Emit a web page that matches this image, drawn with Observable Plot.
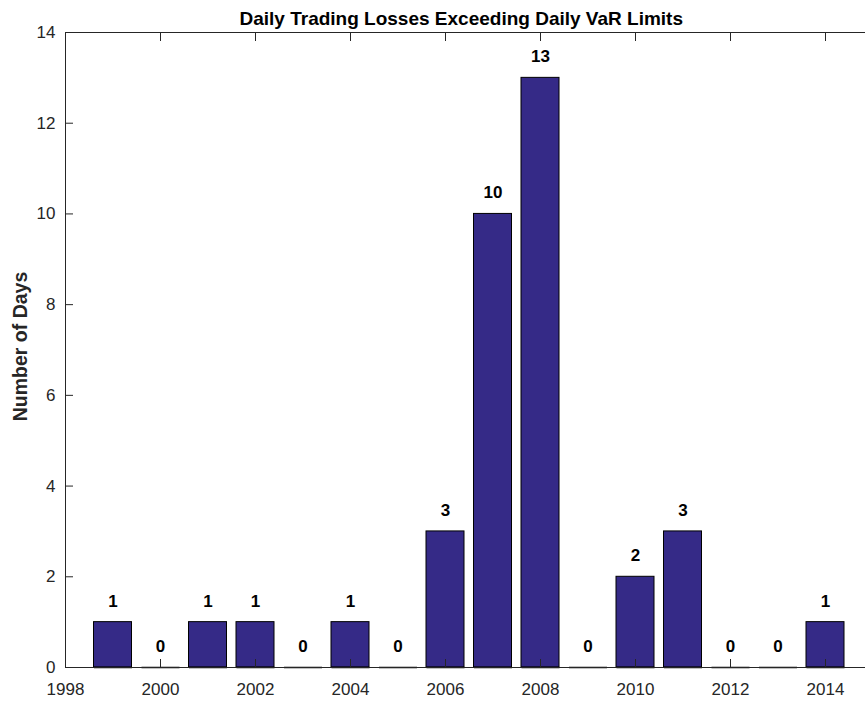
<!DOCTYPE html>
<html>
<head>
<meta charset="utf-8">
<script src="https://cdn.jsdelivr.net/npm/d3@7"></script>
<script src="https://cdn.jsdelivr.net/npm/@observablehq/plot@0.6"></script>
<style>
  html, body { margin: 0; padding: 0; background: #ffffff; overflow: hidden; }
  #chart { width: 865px; height: 702px; overflow: hidden; }
</style>
</head>
<body>
<div id="chart"></div>
<script>
const titleText = "Daily Trading Losses Exceeding Daily VaR Limits";
const yLabelText = "Number of Days";
const years = [1999, 2000, 2001, 2002, 2003, 2004, 2005, 2006, 2007, 2008, 2009, 2010, 2011, 2012, 2013, 2014];
const counts = [1, 0, 1, 1, 0, 1, 0, 3, 10, 13, 0, 2, 3, 0, 0, 1];
const xTicks = [1998, 2000, 2002, 2004, 2006, 2008, 2010, 2012, 2014];
const yTicks = [0, 2, 4, 6, 8, 10, 12, 14];
const xDomain = [1998, 2015];
const yDomain = [0, 14];

const data = years.map((year, i) => ({year, count: counts[i]}));
const halfWidth = 0.4;
const axisColor = "#262626";
const barColor = "#352a87";

const chart = Plot.plot({
  width: 865,
  height: 702,
  marginLeft: 65,
  marginTop: 32,
  marginBottom: 35,
  marginRight: -7.5,
  style: {fontFamily: "'Liberation Sans', Arial, Helvetica, sans-serif", fontSize: "17px", color: axisColor, background: "#ffffff", overflow: "visible"},
  x: {domain: xDomain},
  y: {domain: yDomain},
  marks: [
    Plot.rectY(data, {
      x1: d => d.year - halfWidth,
      x2: d => d.year + halfWidth,
      y: "count",
      fill: barColor,
      stroke: "#000000",
      strokeWidth: 1
    }),
    Plot.link(data, {
      x1: d => d.year - halfWidth,
      x2: d => d.year + halfWidth,
      y1: 0,
      y2: 0,
      stroke: "#000000",
      strokeWidth: 1.5
    }),
    Plot.frame({stroke: axisColor, strokeWidth: 1}),
    Plot.axisX({anchor: "bottom", ticks: xTicks, tickSize: -8, tickPadding: 23, tickFormat: d => String(d), label: null, stroke: axisColor, fill: axisColor, fontSize: 17}),
    Plot.axisX({anchor: "top", ticks: xTicks, tickSize: -8, tickFormat: () => "", label: null, stroke: axisColor}),
    Plot.axisY({anchor: "left", ticks: yTicks, tickSize: -8, tickPadding: 18, tickFormat: d => String(d), label: null, stroke: axisColor, fill: axisColor, fontSize: 17}),
    Plot.axisY({anchor: "right", ticks: yTicks, tickSize: -8, tickFormat: () => "", label: null, stroke: axisColor}),
    Plot.text(data, {
      x: "year",
      y: "count",
      text: d => String(d.count),
      dy: -21,
      lineAnchor: "middle",
      fontWeight: "bold",
      fontSize: 17,
      fill: "#000000"
    }),
    Plot.text([titleText], {
      frameAnchor: "top",
      text: d => d,
      textAnchor: "middle",
      lineAnchor: "bottom",
      dx: -8,
      dy: -8,
      fontWeight: "bold",
      fontSize: 19,
      fill: "#000000"
    }),
    Plot.text([yLabelText], {
      frameAnchor: "left",
      text: d => d,
      rotate: -90,
      textAnchor: "middle",
      dx: -45,
      dy: -3.5,
      lineAnchor: "middle",
      fontWeight: "bold",
      fontSize: 19.5,
      fill: axisColor
    })
  ]
});
document.getElementById("chart").appendChild(chart);
</script>
</body>
</html>
